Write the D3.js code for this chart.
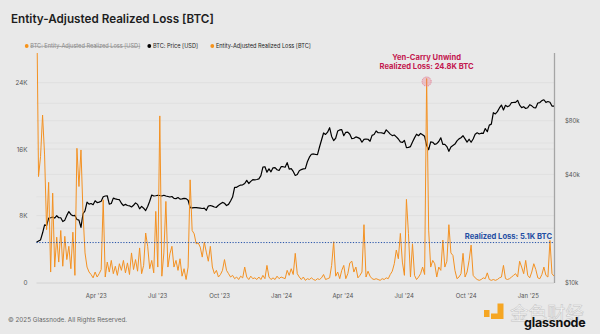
<!DOCTYPE html>
<html><head><meta charset="utf-8">
<script src="https://cdn.jsdelivr.net/npm/d3@7"></script>
<style>
html,body{margin:0;padding:0;background:#e9e9e9;}
svg{display:block;font-family:Inter,"Noto Sans",sans-serif;}
</style></head>
<body>
<svg id="chart" width="600" height="334"></svg>
<script>
// ---- DATA (3-day samples starting 2023-01-03) ----
const startDate = "2023-01-03";
const stepDays = 3;
// BTC price, thousands USD
const priceK = [
16.7,16.95,17.2,18.8,20.9,20.7,22.8,22.9,23.1,22.8,
23.5,22.9,22.9,21.8,22.2,23.6,24.8,23.9,23.5,
23.6,22.4,22.2,20.2,24.1,25.0,28.0,27.3,27.5,27.1,28.5,
27.8,28.0,28.3,30.0,30.3,30.4,27.3,27.5,29.5,29.2,
29.0,28.9,27.6,26.8,27.2,26.8,26.7,26.3,26.9,27.7,
27.2,25.7,26.5,25.9,25.1,26.5,28.3,30.7,30.3,30.4,
30.6,30.5,30.3,30.6,30.3,30.1,29.9,30.1,29.4,29.3,
29.7,29.1,29.2,29.4,29.3,28.7,26.1,26.0,26.1,26.1,26.0,
25.9,25.8,25.9,25.2,26.6,26.8,26.6,26.3,26.2,26.9,
27.4,27.9,27.6,26.8,27.2,28.4,29.9,33.9,33.9,34.5,
34.9,35.0,35.6,37.1,35.6,36.6,37.4,37.3,37.5,37.8,
39.4,44.0,44.2,41.2,43.0,41.4,43.6,43.7,42.5,42.1,
44.2,44.2,43.9,46.6,42.9,43.1,41.6,39.5,40.0,42.0,42.6,
43.0,43.1,47.1,50.0,51.9,52.1,51.8,51.7,57.0,
62.4,68.3,67.0,69.0,73.1,65.3,61.9,63.8,70.0,71.0,71.3,
65.9,68.9,69.1,67.2,63.4,63.8,64.9,64.3,63.5,60.6,
62.9,63.2,63.0,61.4,66.2,67.0,70.1,68.5,68.5,68.3,
67.7,71.1,69.3,67.3,66.0,66.5,64.9,63.2,60.9,60.4,
62.1,56.6,56.7,57.3,60.8,64.1,67.2,65.9,67.9,66.8,
65.4,58.1,55.1,60.9,60.6,58.9,59.5,61.2,64.2,59.0,58.9,
57.3,53.9,57.0,58.1,59.2,61.7,63.3,64.2,65.9,63.3,
60.7,63.0,60.6,63.2,67.1,68.4,67.4,68.1,67.9,72.3,
69.4,75.6,76.5,88.7,87.3,89.9,94.3,97.9,91.9,97.5,
95.9,97.0,101.1,101.2,101.4,104.0,97.8,94.7,95.8,93.7,
94.6,98.3,96.9,94.7,94.5,100.5,101.1,103.7,104.8,101.3,102.4,
101.4,96.6,96.5
];
// Entity-adjusted realized loss, thousands BTC
const lossK = [
36,12.7,15.1,20.1,15.3,6.3,12.0,1.2,10.7,1.8,
5.4,2.4,6.2,1.9,5.5,2.7,4.3,1.6,6.0,0.8,
16.1,11.5,15.9,8.3,3.5,1.8,1.2,0.9,0.5,1.2,
0.6,1.0,1.5,9.9,0.6,2.4,1.2,2.6,1.0,1.9,
0.8,2.2,1.4,2.6,1.1,2.3,0.9,3.5,1.5,2.7,
1.3,4.1,1.0,2.0,5.9,4.3,1.6,2.6,1.1,8.5,
1.8,20.0,0.7,3.5,9.7,1.8,3.4,4.3,1.8,2.6,
1.4,2.8,0.7,1.6,0.3,1.8,12.3,6.2,5.8,4.6,
4.7,4.2,3.0,4.8,3.6,2.5,4.3,1.8,1.0,1.4,
0.6,0.9,1.4,2.7,1.4,1.0,0.6,0.8,0.4,0.6,
0.3,0.7,0.5,1.8,0.6,0.3,0.7,0.4,0.5,0.3,
0.6,0.3,0.8,0.4,2.0,0.6,0.3,0.5,0.3,0.7,
0.4,0.6,0.5,0.4,1.4,0.8,1.6,0.9,3.45,1.0,
0.6,0.3,0.6,0.2,0.4,0.3,0.5,0.3,0.2,0.4,
0.3,0.5,0.9,0.3,0.4,0.5,2.0,4.85,0.7,1.2,
0.4,1.4,2.0,0.4,1.0,2.3,2.5,1.2,1.8,0.5,
0.8,1.2,6.9,0.6,1.3,0.7,0.4,0.3,0.4,0.3,
0.2,0.4,0.3,0.5,0.4,0.9,1.3,2.2,3.85,2.8,
5.85,2.4,0.8,9.95,5.85,0.6,4.6,0.8,0.3,0.6,
1.0,1.8,0.9,24.5,6.25,1.8,2.6,2.2,0.6,1.8,
1.4,5.05,1.8,2.5,6.9,3.5,3.2,1.4,0.4,0.6,
1.0,3.45,0.6,1.2,2.6,4.45,0.8,0.5,0.3,0.2,
0.3,0.5,0.4,1.1,0.3,0.2,0.3,0.2,0.3,0.5,
0.6,2.0,0.4,0.3,0.4,0.6,0.8,1.0,0.6,2.5,
1.8,1.0,2.6,0.8,0.5,1.2,2.2,1.5,0.5,0.4,
0.9,1.8,0.8,0.6,5.0,1.0,0.7
];
const lossTicks = [0, 8, 16, 24];
const lossTickLabels = ["0", "8K", "16K", "24K"];
const priceTicks = [10, 40, 80];
const priceTickLabels = ["$10k", "$40k", "$80k"];
const priceGrid = [20, 30, 40, 60, 80, 100];
const xTickDates = ["2023-04-01","2023-07-01","2023-10-01","2024-01-01","2024-04-01","2024-07-01","2024-10-01","2025-01-01"];
const xTickLabels = ["Apr '23","Jul '23","Oct '23","Jan '24","Apr '24","Jul '24","Oct '24","Jan '25"];
const domainStart = "2023-01-03", domainEnd = "2025-02-09";
const refLossK = 4.75;            // dotted reference line position
const refLabel = "Realized Loss: 5.1K BTC";
const peakLabel = ["Yen-Carry Unwind", "Realized Loss: 24.8K BTC"];
const legendItems = [
  {label:"BTC: Entity-Adjusted Realized Loss [USD]", color:"#f7931a", off:true},
  {label:"BTC: Price [USD]", color:"#000000", off:false},
  {label:"Entity-Adjusted Realized Loss [BTC]", color:"#f7931a", off:false}
];

// ---- CHART ----
const parse = d3.utcParse("%Y-%m-%d");
const svg = d3.select("#chart");
const L = 36.5, R = 554, T = 53, B = 282;
const ORANGE = "#f39122";

const x = d3.scaleUtc().domain([parse(domainStart), parse(domainEnd)]).range([L, R]);
const yL = d3.scaleLinear().domain([0, 24]).range([B, 82.7]);
const yP = d3.scaleLog().domain([10, 80]).range([B, 120.7]);

const t0 = parse(startDate);
const dates = lossK.map((_, i) => d3.utcDay.offset(t0, i * stepDays));

// title
svg.append("text").attr("x", 11).attr("y", 22.5).attr("font-size", 11.7).attr("font-weight", 600)
  .attr("fill", "#1d1d1d").text("Entity-Adjusted Realized Loss [BTC]");

// legend
const legX = [26.7, 149.3, 212.3];
legendItems.forEach((d, i) => {
  const g = svg.append("g").attr("transform", `translate(${legX[i]},46)`);
  g.append("circle").attr("r", 1.9).attr("fill", d.color);
  const t = g.append("text").attr("x", 3.6).attr("y", 1.9).attr("font-size", 5.6)
    .attr("fill", d.off ? "#8a8a8a" : "#222").text(d.label);
  if (d.off) t.attr("text-decoration", "line-through");
});

// grid
const grid = svg.append("g");
lossTicks.slice(1).forEach(v => grid.append("line").attr("x1", L).attr("x2", R)
  .attr("y1", yL(v)).attr("y2", yL(v)).attr("stroke", "#dcdcdc").attr("stroke-width", 0.8));
priceGrid.forEach(v => grid.append("line").attr("x1", L).attr("x2", R)
  .attr("y1", yP(v)).attr("y2", yP(v)).attr("stroke", "#dedede").attr("stroke-width", 0.8));

// frame
svg.append("line").attr("x1", L).attr("x2", R).attr("y1", B + 1).attr("y2", B + 1).attr("stroke", "#d2d2d2").attr("stroke-width", 1);
svg.append("line").attr("x1", R + 0.5).attr("x2", R + 0.5).attr("y1", T).attr("y2", B + 1).attr("stroke", "#a5a5a5").attr("stroke-width", 1.3);

// clip
svg.append("clipPath").attr("id", "clip").append("rect").attr("x", L - 1).attr("y", T).attr("width", R - L + 1).attr("height", B - T + 2);
const plot = svg.append("g").attr("clip-path", "url(#clip)");

// price line
plot.append("path").datum(priceK).attr("fill", "none").attr("stroke", "#000").attr("stroke-width", 1.2)
  .attr("stroke-linejoin", "round")
  .attr("d", d3.line().x((d, i) => x(dates[i])).y(d => yP(d)));

// loss line
plot.append("path").datum(lossK).attr("fill", "none").attr("stroke", ORANGE).attr("stroke-width", 1)
  .attr("stroke-linejoin", "miter")
  .attr("d", d3.line().x((d, i) => x(dates[i])).y(d => yL(d)));

// reference line
svg.append("line").attr("x1", L).attr("x2", R).attr("y1", yL(refLossK)).attr("y2", yL(refLossK))
  .attr("stroke", "#2250a8").attr("stroke-width", 1).attr("stroke-dasharray", "1.2,1.6");
svg.append("text").attr("x", R - 2).attr("y", yL(refLossK) - 3.2).attr("text-anchor", "end")
  .attr("font-size", 7.6).attr("font-weight", 700).attr("fill", "#1f4ea3").text(refLabel);

// peak annotation
const pi = lossK.indexOf(d3.max(lossK.slice(1)));
const px = x(dates[pi]), py = yL(lossK[pi]);
svg.append("circle").attr("cx", px).attr("cy", py + 3).attr("r", 4.6).attr("fill", "rgba(236,120,140,0.35)")
  .attr("stroke", "#e0708a").attr("stroke-width", 0.8).attr("stroke-dasharray", "1.2,1");
svg.append("text").attr("x", px).attr("y", 60).attr("text-anchor", "middle").attr("font-size", 7.6)
  .attr("font-weight", 700).attr("fill", "#c3184f").text(peakLabel[0]);
svg.append("text").attr("x", px).attr("y", 69).attr("text-anchor", "middle").attr("font-size", 7.6)
  .attr("font-weight", 700).attr("fill", "#c3184f").text(peakLabel[1]);

// left axis
const la = svg.append("g").attr("transform", `translate(${L - 6},0)`)
  .call(d3.axisLeft(yL).tickValues(lossTicks).tickSize(0).tickFormat((d, i) => lossTickLabels[i]));
la.select(".domain").remove();
la.selectAll("text").attr("font-size", 6.3).attr("fill", "#555").attr("font-family", "Inter,sans-serif").attr("dy", "0.35em");

// right axis
const ra = svg.append("g").attr("transform", `translate(${R + 8},0)`)
  .call(d3.axisRight(yP).tickValues(priceTicks).tickSize(0).tickFormat((d, i) => priceTickLabels[i]));
ra.select(".domain").remove();
ra.selectAll("text").attr("font-size", 6).attr("fill", "#555").attr("font-family", "Inter,sans-serif").attr("dy", "0.35em");

// bottom axis
const ba = svg.append("g").attr("transform", `translate(0,${B + 9})`)
  .call(d3.axisBottom(x).tickValues(xTickDates.map(parse)).tickSize(0).tickFormat((d, i) => xTickLabels[i]));
ba.select(".domain").remove();
ba.selectAll("text").attr("font-size", 6).attr("fill", "#555").attr("font-family", "Inter,sans-serif").attr("dy", "0.71em");

// footer
svg.append("text").attr("x", 8).attr("y", 322).attr("font-size", 6.3).attr("fill", "#666").text("© 2025 Glassnode. All Rights Reserved.");

// watermark / logo
const wm = svg.append("g");
wm.append("rect").attr("x", 484).attr("y", 310).attr("width", 5.5).attr("height", 7).attr("fill", "#f5a623");
wm.append("path").attr("d", "M497.5,303.5 h6 v15.5 h-12.5 v-5.5 h6.5 z").attr("fill", "#f5a623");
wm.append("text").attr("x", 510).attr("y", 320).attr("font-size", 18.5).attr("font-family", "'Noto Sans CJK SC',sans-serif")
  .attr("fill", "#f6f6f6").attr("stroke", "#c4c4c4").attr("stroke-width", 0.5).text("金色财经");
wm.append("text").attr("x", 524).attr("y", 326.5).attr("font-size", 12.5).attr("font-weight", 700)
  .attr("fill", "#111").attr("letter-spacing", "-0.2").text("glassnode");
</script>
</body></html>
